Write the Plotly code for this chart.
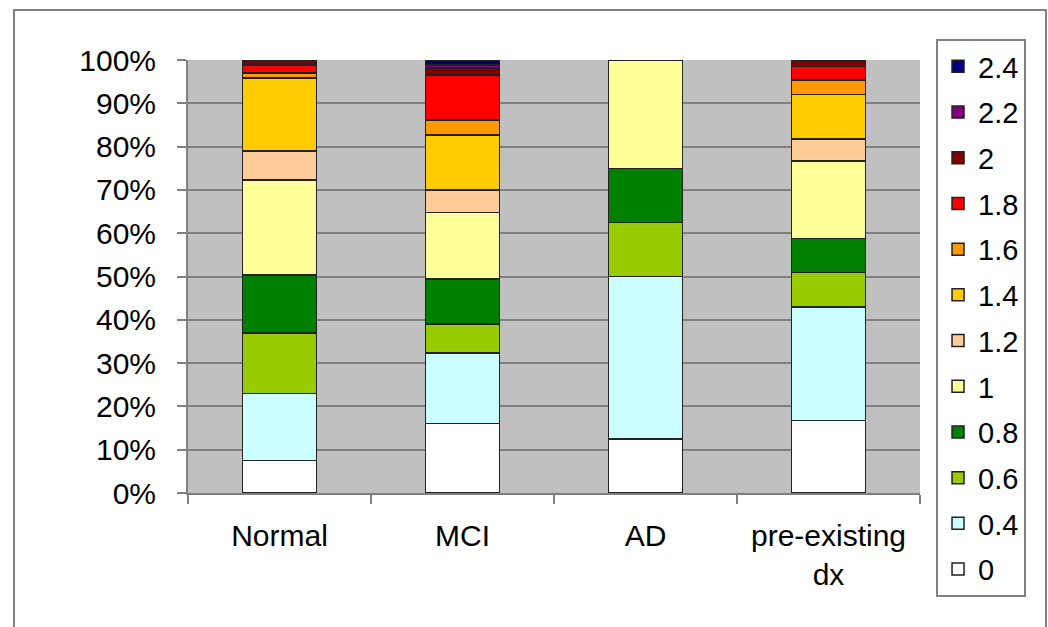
import plotly.graph_objects as go

# Diagnostic groups on the x axis
groups = ["Normal", "MCI", "AD", "pre-existing<br>dx"]

# Score levels (stack order, bottom to top)
levels = ["0", "0.4", "0.6", "0.8", "1", "1.2", "1.4", "1.6", "1.8", "2", "2.2", "2.4"]

# Percentage of each group at each score level (columns follow `groups`)
pct_0 = [7.5, 16.1, 12.5, 16.7]
pct_0_4 = [15.5, 16.2, 37.5, 26.3]
pct_0_6 = [14.0, 6.7, 12.5, 7.9]
pct_0_8 = [13.3, 10.4, 12.5, 7.9]
pct_1 = [22.0, 15.4, 25.0, 17.9]
pct_1_2 = [6.7, 5.2, 0.0, 5.0]
pct_1_4 = [16.8, 12.7, 0.0, 10.3]
pct_1_6 = [1.2, 3.4, 0.0, 3.4]
pct_1_8 = [1.9, 10.4, 0.0, 3.1]
pct_2 = [1.1, 1.6, 0.0, 1.5]
pct_2_2 = [0.0, 0.8, 0.0, 0.0]
pct_2_4 = [0.0, 1.1, 0.0, 0.0]

series = [pct_0, pct_0_4, pct_0_6, pct_0_8, pct_1, pct_1_2,
          pct_1_4, pct_1_6, pct_1_8, pct_2, pct_2_2, pct_2_4]

colors = ["#FFFFFF", "#CCFFFF", "#99CC00", "#008000", "#FFFF99", "#FFCC99",
          "#FFCC00", "#FF9900", "#FF0000", "#800000", "#800080", "#000080"]

FONT = "Liberation Sans, Arial, sans-serif"

fig = go.Figure()
n = len(levels)
for i, (name, vals, col) in enumerate(zip(levels, series, colors)):
    fig.add_trace(go.Bar(
        x=groups,
        y=[v if v > 0 else None for v in vals],
        name=name,
        legendgroup=name,
        legendrank=n - i,  # highest score listed first
        marker=dict(color=col, line=dict(color="#222222", width=1.5)),
    ))

# Outer chart frame
fig.add_shape(type="rect", xref="paper", yref="paper",
              x0=-0.2377, x1=1.1721, y0=-0.40, y1=1.1155,
              line=dict(color="#808080", width=2), fillcolor="rgba(0,0,0,0)",
              layer="below")

fig.update_layout(
    width=1048, height=627,
    margin=dict(l=188, r=128, t=60, b=134),
    paper_bgcolor="white",
    plot_bgcolor="#C0C0C0",
    barmode="stack",
    bargap=0.596,
    font=dict(family=FONT, size=30, color="#000000"),
    legend=dict(
        x=1.0219, xanchor="left", y=1.0485, yanchor="top",
        traceorder="grouped",
        tracegroupgap=5,
        maxheight=600,
        bgcolor="white",
        bordercolor="#808080", borderwidth=2,
        font=dict(family=FONT, size=29, color="#000000"),
        itemwidth=30,
    ),
    xaxis=dict(
        type="category",
        showgrid=False,
        showline=True, linecolor="#808080", linewidth=2,
        ticks="outside", tickson="boundaries", ticklen=9,
        tickcolor="#808080", tickwidth=2,
        ticklabelstandoff=15,
        tickfont=dict(family=FONT, size=30, color="#000000"),
    ),
    yaxis=dict(
        range=[0, 100],
        tickvals=[0, 10, 20, 30, 40, 50, 60, 70, 80, 90, 100],
        ticktext=["0%", "10%", "20%", "30%", "40%", "50%", "60%",
                  "70%", "80%", "90%", "100%"],
        showgrid=True, gridcolor="#808080", gridwidth=2,
        showline=True, linecolor="#808080", linewidth=2,
        ticks="outside", ticklen=9, tickcolor="#808080", tickwidth=2,
        ticklabelstandoff=15,
        zeroline=False,
        tickfont=dict(family=FONT, size=30, color="#000000"),
    ),
    showlegend=True,
)

fig.write_html("out.html")
